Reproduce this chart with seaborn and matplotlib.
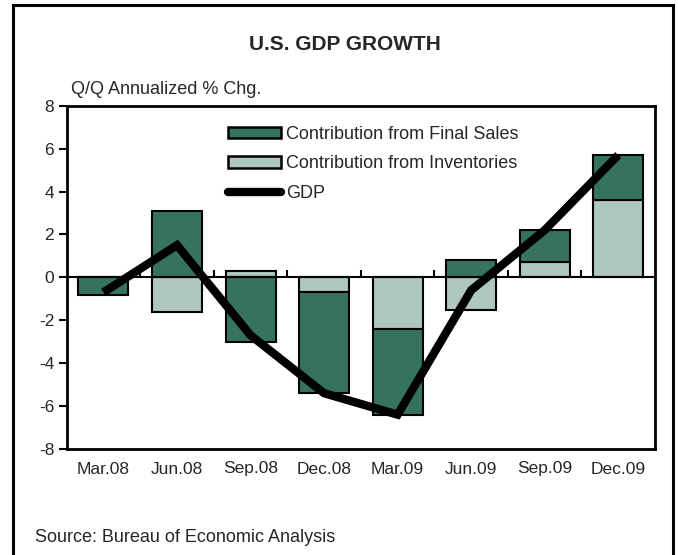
import numpy as np
import pandas as pd
import matplotlib
matplotlib.use("Agg")
import matplotlib.pyplot as plt
import seaborn as sns
from matplotlib.patches import Patch, Rectangle
from matplotlib.lines import Line2D

quarters = ["Mar.08", "Jun.08", "Sep.08", "Dec.08", "Mar.09", "Jun.09", "Sep.09", "Dec.09"]
final_sales = [-0.8, 3.1, -3.0, -4.7, -4.0, 0.8, 1.5, 2.1]
inventories = [0.0, -1.6, 0.3, -0.7, -2.4, -1.5, 0.7, 3.6]
gdp = [-0.7, 1.5, -2.7, -5.4, -6.4, -0.6, 2.2, 5.7]
yticks = [-8, -6, -4, -2, 0, 2, 4, 6, 8]

DARK = "#35735C"
LIGHT = "#AEC8BD"
FS = 12.5

sns.set_theme(style="white")
plt.rcParams["font.family"] = ["Liberation Sans", "DejaVu Sans"]

fig = plt.figure(figsize=(6.78, 5.55), dpi=100)
ax = fig.add_axes([66.7 / 678, 1 - 449 / 555, (655 - 66.7) / 678, (449 - 105.7) / 555])

x = np.arange(len(quarters))
inv = np.array(inventories)
fs = np.array(final_sales)
w = 0.68
# inventories first (from zero), then final sales stacked on same-sign side
ax.bar(x, inv, width=w, color=LIGHT, edgecolor="black", linewidth=1.5, zorder=2)
pos_base = np.where(inv > 0, inv, 0)
neg_base = np.where(inv < 0, inv, 0)
fs_bottom = np.where(fs >= 0, pos_base, neg_base)
ax.bar(x, fs, width=w, bottom=fs_bottom, color=DARK, edgecolor="black", linewidth=1.5, zorder=2)

df = pd.DataFrame({"x": x, "GDP": gdp})
sns.lineplot(data=df, x="x", y="GDP", ax=ax, color="black", linewidth=6,
             solid_capstyle="butt", solid_joinstyle="miter", zorder=4, legend=False)

ax.set_xlim(-0.5, len(quarters) - 0.5)
ax.set_ylim(-8, 8)
ax.set_yticks(yticks)
ax.set_yticklabels([str(t) for t in yticks], fontsize=FS)
ax.tick_params(axis="y", direction="out", length=6, width=1.5, color="black", pad=3, left=True)
ax.set_xticks(x)
ax.set_xticklabels(quarters, fontsize=FS)
ax.tick_params(axis="x", length=0, pad=9)
ax.set_xlabel("")
ax.set_ylabel("")
for s in ax.spines.values():
    s.set_color("black")
    s.set_linewidth(2)
    s.set_visible(True)

ax.axhline(0, color="black", linewidth=1.5, zorder=3)
# category separator ticks on the zero line
sec = ax.secondary_xaxis(0.5)
sec.set_xticks(np.arange(0.5, len(quarters) - 0.5, 1.0))
sec.set_xticklabels([])
sec.tick_params(direction="out", length=5, width=1.5, color="black")
sec.spines["bottom"].set_visible(False)

handles = [Patch(facecolor=DARK, edgecolor="black", linewidth=1.8),
           Patch(facecolor=LIGHT, edgecolor="black", linewidth=1.8),
           Line2D([0], [0], color="black", linewidth=6, solid_capstyle="round")]
labels = ["Contribution from Final Sales", "Contribution from Inventories", "GDP"]
ax.legend(handles, labels, loc="upper left", bbox_to_anchor=(0.274, 0.942), frameon=False,
          fontsize=13, handlelength=2.95, handleheight=0.6, handletextpad=0.25,
          labelspacing=0.7, borderaxespad=0, borderpad=0)

fig.text(345 / 678, 1 - 44 / 555, "U.S. GDP GROWTH", ha="center", va="center",
         fontsize=15, fontweight="bold")
fig.text(71 / 678, 1 - 90 / 555, "Q/Q Annualized % Chg.", ha="left", va="center", fontsize=13)
fig.text(35 / 678, 1 - 537 / 555, "Source: Bureau of Economic Analysis", ha="left", va="center", fontsize=13)

fig.patches.append(Rectangle((13 / 678, -0.05), (673 - 13) / 678, 1.05 - 5 / 555,
                             transform=fig.transFigure, fill=False, edgecolor="black",
                             linewidth=2.2, zorder=10))

fig.savefig("out.png", dpi=100)
